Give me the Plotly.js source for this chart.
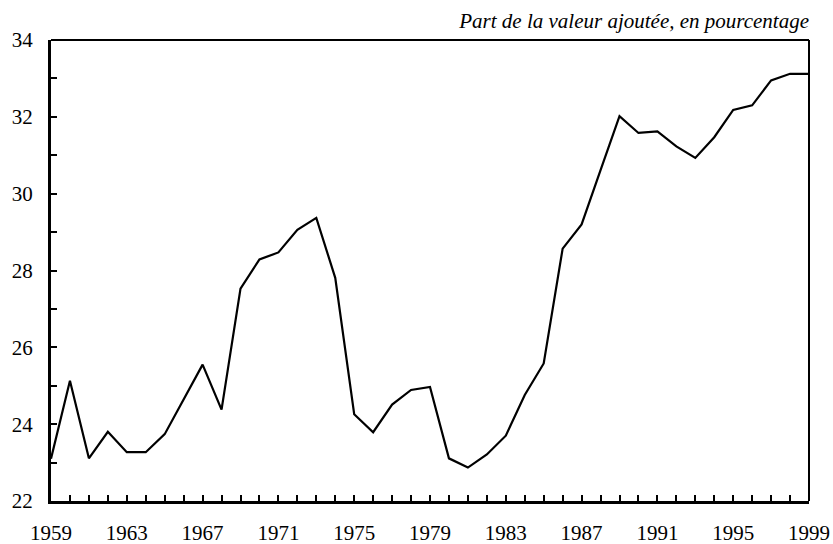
<!DOCTYPE html>
<html>
<head>
<meta charset="utf-8">
<script src="https://cdn.plot.ly/plotly-3.0.1.min.js"></script>
<style>html,body{margin:0;padding:0;background:#fff;}#chart{width:833px;height:544px;}</style>
</head>
<body>
<div id="chart"></div>
<script>
var years = [1959,1960,1961,1962,1963,1964,1965,1966,1967,1968,1969,1970,1971,1972,1973,1974,1975,1976,1977,1978,1979,1980,1981,1982,1983,1984,1985,1986,1987,1988,1989,1990,1991,1992,1993,1994,1995,1996,1997,1998,1999];
var share = [23.1,25.13,23.11,23.8,23.27,23.27,23.74,24.64,25.55,24.38,27.53,28.29,28.47,29.06,29.37,27.81,24.26,23.79,24.51,24.89,24.97,23.11,22.87,23.21,23.7,24.76,25.58,28.57,29.2,30.61,32.02,31.58,31.62,31.23,30.93,31.47,32.18,32.3,32.95,33.12,33.12];
var xTickLabels = ['1959','1963','1967','1971','1975','1979','1983','1987','1991','1995','1999'];
var yTickLabels = ['22','24','26','28','30','32','34'];
var titleText = 'Part de la valeur ajoutée, en pourcentage';

var xtv = years.slice();
var xtt = years.map(function(y){ return xTickLabels.indexOf(String(y)) >= 0 ? String(y) : ''; });
var ytv = [], ytt = [];
for (var v = 22; v <= 34; v++) { ytv.push(v); ytt.push(yTickLabels.indexOf(String(v)) >= 0 ? String(v) : ''); }

var fam = 'Liberation Serif, Times New Roman, Times, DejaVu Serif, serif';
var font = {family: fam, size: 21, color: '#000'};

var trace = {x: years, y: share, type: 'scatter', mode: 'lines', line: {color: '#000', width: 2.2}, hoverinfo: 'skip'};

var layout = {
  width: 833, height: 544,
  margin: {l: 51, r: 24, t: 40, b: 43, pad: 0},
  paper_bgcolor: '#fff', plot_bgcolor: '#fff',
  showlegend: false,
  font: font,
  title: {text: titleText, font: {family: fam, size: 21, color: '#000', style: 'italic'},
          x: 1, xref: 'paper', xanchor: 'right', y: 1 - 21/544, yref: 'container', yanchor: 'middle'},
  xaxis: {range: [1959, 1999], tickmode: 'array', tickvals: xtv, ticktext: xtt,
          ticks: 'inside', ticklen: 6, tickwidth: 2, tickcolor: '#000',
          showline: true, linewidth: 3, linecolor: '#000', showgrid: false, zeroline: false,
          ticklabelstandoff: 11, tickfont: font, fixedrange: true},
  yaxis: {range: [22, 34], tickmode: 'array', tickvals: ytv, ticktext: ytt,
          ticks: 'inside', ticklen: 6, tickwidth: 2, tickcolor: '#000',
          showline: true, linewidth: 3, linecolor: '#000', showgrid: false, zeroline: false,
          ticklabelstandoff: 11, tickfont: font, fixedrange: true},
  shapes: [
    {type: 'line', xref: 'paper', yref: 'paper', x0: 0, x1: 1, y0: 1, y1: 1, line: {color: '#000', width: 2}},
    {type: 'line', xref: 'paper', yref: 'paper', x0: 1, x1: 1, y0: 0, y1: 1, line: {color: '#000', width: 2}}
  ]
};

Plotly.newPlot('chart', [trace], layout, {staticPlot: true, displayModeBar: false});
</script>
</body>
</html>
